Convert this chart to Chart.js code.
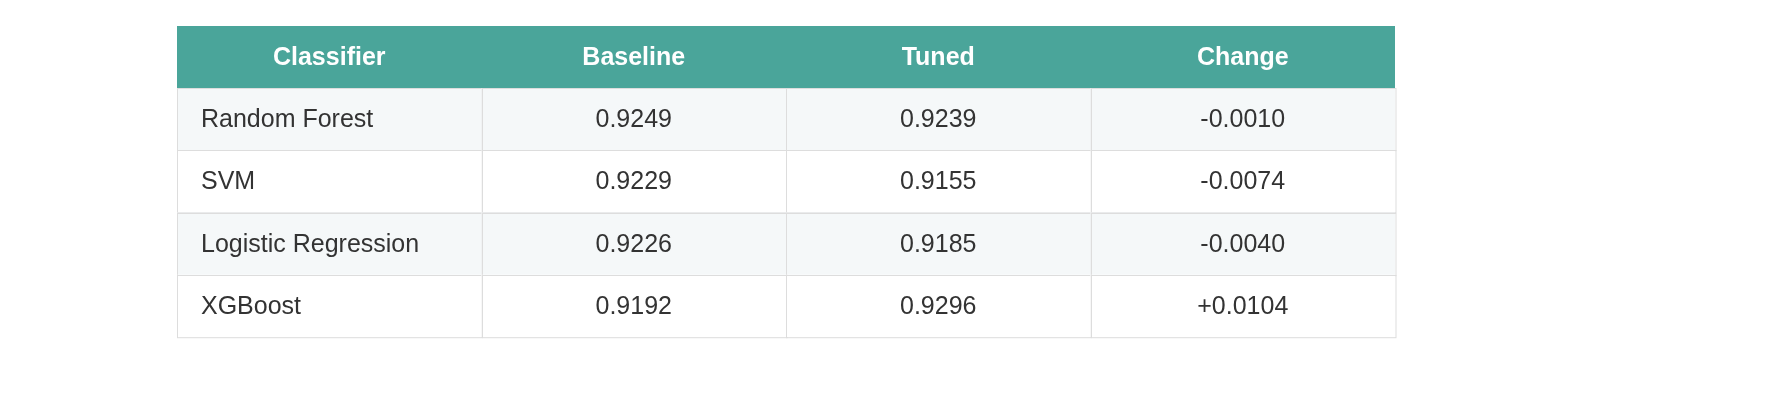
<!DOCTYPE html>
<html>
<head>
<meta charset="utf-8">
<script src="https://cdn.jsdelivr.net/npm/chart.js@4"></script>
<style>
  html, body { margin: 0; padding: 0; background: #fff; }
  canvas { display: block; }
</style>
</head>
<body>
<canvas id="tbl" width="1768" height="404"></canvas>
<script>
const columns = ['Classifier', 'Baseline', 'Tuned', 'Change'];
const classifiers = ['Random Forest', 'SVM', 'Logistic Regression', 'XGBoost'];
const baseline = ['0.9249', '0.9229', '0.9226', '0.9192'];
const tuned = ['0.9239', '0.9155', '0.9185', '0.9296'];
const change = ['-0.0010', '-0.0074', '-0.0040', '+0.0104'];

const rowKeys = ['header'].concat(classifiers);

// draws the table cells on the category grid of the two hidden scales
const tablePlugin = {
  id: 'table',
  beforeDraw(chart) {
    const ctx = chart.ctx;
    const xs = chart.scales.x, ys = chart.scales.y;
    const colW = xs.width / columns.length;
    const rowH = ys.height / rowKeys.length;
    ctx.save();
    ctx.textBaseline = 'middle';
    // header band as one block so no seams between columns
    const hTop = ys.getPixelForValue(0) - rowH / 2;
    ctx.fillStyle = '#4aa59a';
    ctx.fillRect(xs.left, hTop, xs.width, rowH);
    rowKeys.forEach((key, r) => {
      const cy = ys.getPixelForValue(r);
      const top = cy - rowH / 2;
      columns.forEach((col, c) => {
        const cx = xs.getPixelForValue(c);
        const left = cx - colW / 2;
        let text;
        if (r === 0) {
          text = col;
        } else {
          ctx.fillStyle = (r % 2 === 1) ? '#f5f8f9' : '#ffffff';
          ctx.fillRect(left, top, colW, rowH);
          ctx.strokeStyle = '#dddddd';
          ctx.lineWidth = 1;
          ctx.strokeRect(Math.round(left) + 0.5, Math.round(top) + 0.5, colW, rowH);
          const i = r - 1;
          text = [classifiers[i], baseline[i], tuned[i], change[i]][c];
        }
        if (r === 0) {
          ctx.font = 'bold 25px "Liberation Sans", Arial, sans-serif';
          ctx.fillStyle = '#ffffff';
        } else {
          ctx.font = '25px "Liberation Sans", Arial, sans-serif';
          ctx.fillStyle = '#333333';
        }
        if (r > 0 && c === 0) {
          ctx.textAlign = 'left';
          ctx.fillText(text, left + 24, cy + 1);
        } else {
          ctx.textAlign = 'center';
          ctx.fillText(text, cx, cy + 1);
        }
      });
    });
    ctx.restore();
  }
};

new Chart(document.getElementById('tbl'), {
  type: 'scatter',
  data: { datasets: [] },
  options: {
    responsive: false,
    animation: false,
    devicePixelRatio: 1,
    layout: { padding: { left: 177, right: 373, top: 26, bottom: 67 } },
    plugins: { legend: { display: false }, tooltip: { enabled: false } },
    scales: {
      x: { type: 'category', labels: columns, offset: true, display: false },
      y: { type: 'category', labels: rowKeys, offset: true, display: false }
    }
  },
  plugins: [tablePlugin]
});
</script>
</body>
</html>
